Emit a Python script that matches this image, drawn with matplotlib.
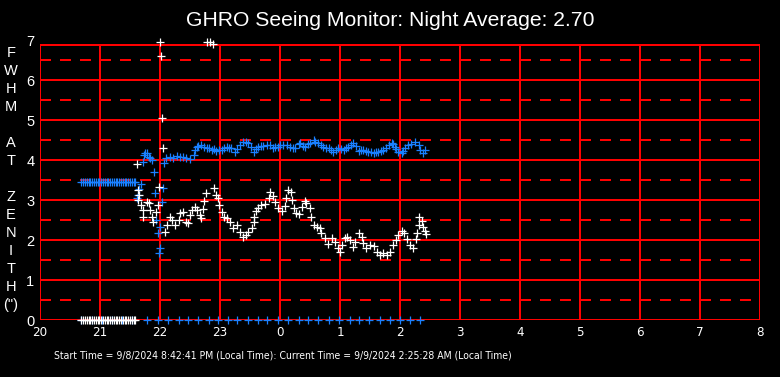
import matplotlib
matplotlib.use("Agg")
import matplotlib.pyplot as plt

plt.rcParams['lines.scale_dashes'] = False

title = "GHRO Seeing Monitor: Night Average: 2.70"
footer = ("Start Time = 9/8/2024 8:42:41 PM (Local Time): "
          "Current Time = 9/9/2024 2:25:28 AM (Local Time)")
ylabel_chars = ["F", "W", "H", "M", "", "A", "T", "", "Z", "E", "N", "I", "T", "H", "(\")"]
hour_ticks = list(range(20, 33))
hour_labels = ["20", "21", "22", "23", "0", "1", "2", "3", "4", "5", "6", "7", "8"]
y_ticks = list(range(8))

# hours after 20:00, past midnight keeps counting (24 = 0h)
white_t = [22.0, 22.02, 22.04, 22.055, 22.78, 22.83, 22.89,
           21.62, 21.64, 21.65, 21.64, 21.69, 21.72, 21.71, 21.78, 21.81, 21.83,
           21.86, 21.89, 21.93, 21.97, 21.99, 22.08, 22.11, 22.16, 22.2, 22.25,
           22.31, 22.33, 22.39, 22.43, 22.47, 22.5, 22.53, 22.58, 22.61, 22.67,
           22.69, 22.71, 22.73, 22.76, 22.9, 22.93, 22.96, 22.99, 23.03, 23.07,
           23.11, 23.17, 23.22, 23.28, 23.33, 23.39, 23.43, 23.47, 23.53, 23.56,
           23.57, 23.6, 23.64, 23.69, 23.75, 23.81, 23.83, 23.88, 23.92, 23.97,
           24.04, 24.08, 24.1, 24.14, 24.19, 24.2, 24.23, 24.27, 24.32, 24.36,
           24.42, 24.44, 24.5, 24.52, 24.56, 24.61, 24.67, 24.69, 24.75, 24.8,
           24.86, 24.92, 24.96, 25.0, 25.04, 25.08, 25.12, 25.17, 25.21, 25.25,
           25.31, 25.36, 25.39, 25.44, 25.5, 25.56, 25.61, 25.67, 25.72, 25.78,
           25.83, 25.89, 25.93, 25.97, 26.03, 26.07, 26.11, 26.17, 26.22, 26.26,
           26.28, 26.31, 26.32, 26.37, 26.39, 26.41, 26.43]
white_v = [6.94, 6.6, 5.04, 4.29, 6.94, 6.94, 6.9,
           3.89, 3.25, 3.12, 3.0, 2.88, 2.75, 2.57, 2.96, 2.92, 2.75,
           2.58, 2.46, 2.71, 2.88, 3.33, 2.19, 2.38, 2.57, 2.5, 2.38,
           2.5, 2.67, 2.71, 2.46, 2.42, 2.62, 2.75, 2.82, 2.75, 2.62,
           2.54, 2.77, 2.98, 3.17, 3.29, 3.12, 3.04, 2.88, 2.71, 2.58,
           2.54, 2.46, 2.29, 2.38, 2.21, 2.08, 2.12, 2.21, 2.29, 2.46,
           2.57, 2.72, 2.79, 2.88, 2.9, 3.04, 3.2, 3.1, 2.95, 2.8,
           2.73, 2.85, 3.04, 3.25, 3.21, 3.0, 2.79, 2.67, 2.64, 2.82,
           2.98, 2.92, 2.79, 2.57, 2.38, 2.33, 2.29, 2.17, 2.04, 1.9,
           2.04, 1.96, 1.79, 1.71, 1.88, 2.04, 2.08, 2.0, 1.83, 1.96,
           2.17, 2.08, 1.92, 1.79, 1.88, 1.85, 1.71, 1.62, 1.67, 1.62,
           1.71, 1.88, 2.0, 2.12, 2.23, 2.17, 2.02, 1.88, 1.79, 2.03,
           2.18, 2.38, 2.57, 2.48, 2.33, 2.22, 2.14]

flat_t = [20.69, 20.72, 20.75, 20.78, 20.81, 20.84, 20.87, 20.9, 20.93, 20.96,
          20.99, 21.02, 21.05, 21.08, 21.11, 21.14, 21.17, 21.2, 21.23, 21.26,
          21.29, 21.32, 21.35, 21.38, 21.41, 21.44, 21.47, 21.5, 21.53, 21.56, 21.58]
flat_v = [3.44] * len(flat_t)

blue_t = [21.61, 21.64, 21.65, 21.69, 21.71, 21.73, 21.75, 21.78, 21.81, 21.83,
          21.86, 21.9, 21.92, 21.94, 21.97, 21.99, 22.0, 22.005, 22.03, 22.055,
          22.07, 22.1, 22.17, 22.22, 22.28, 22.33, 22.39, 22.44, 22.5, 22.56,
          22.58, 22.61, 22.64, 22.69, 22.73, 22.78, 22.82, 22.86, 22.9, 22.94,
          22.98, 23.03, 23.07, 23.11, 23.15, 23.19, 23.25, 23.29, 23.33, 23.39,
          23.43, 23.47, 23.51, 23.56, 23.6, 23.64, 23.69, 23.72, 23.78, 23.83,
          23.89, 23.92, 23.96, 24.0, 24.05, 24.11, 24.17, 24.22, 24.25, 24.31,
          24.33, 24.39, 24.42, 24.47, 24.5, 24.56, 24.58, 24.64, 24.68, 24.72,
          24.76, 24.81, 24.85, 24.89, 24.93, 24.97, 25.01, 25.06, 25.1, 25.14,
          25.18, 25.22, 25.26, 25.31, 25.35, 25.39, 25.43, 25.47, 25.51, 25.56,
          25.6, 25.64, 25.68, 25.72, 25.76, 25.81, 25.86, 25.89, 25.92, 25.94,
          25.97, 26.03, 26.05, 26.08, 26.14, 26.19, 26.25, 26.31, 26.33, 26.38, 26.42]
blue_v = [3.04, 3.12, 3.27, 3.4, 3.96, 4.12, 4.17, 4.17, 4.08, 4.06,
          4.0, 3.71, 3.17, 2.5, 2.18, 1.68, 1.79, 2.33, 2.96, 3.29,
          3.93, 4.04, 4.08, 4.06, 4.1, 4.08, 4.07, 4.06, 4.02, 4.12,
          4.25, 4.33, 4.35, 4.38, 4.33, 4.29, 4.3, 4.25, 4.28, 4.23,
          4.25, 4.25, 4.3, 4.33, 4.31, 4.29, 4.21, 4.28, 4.38, 4.46,
          4.44, 4.42, 4.33, 4.21, 4.27, 4.33, 4.35, 4.35, 4.38, 4.38,
          4.29, 4.33, 4.33, 4.38, 4.38, 4.38, 4.33, 4.29, 4.29, 4.4,
          4.42, 4.35, 4.33, 4.4, 4.42, 4.5, 4.46, 4.42, 4.38, 4.33,
          4.31, 4.29, 4.25, 4.21, 4.25, 4.29, 4.27, 4.25, 4.3, 4.33,
          4.38, 4.42, 4.35, 4.23, 4.24, 4.25, 4.23, 4.21, 4.19, 4.17,
          4.19, 4.21, 4.23, 4.25, 4.31, 4.38, 4.43, 4.4, 4.33, 4.27,
          4.21, 4.17, 4.23, 4.29, 4.38, 4.4, 4.46, 4.38, 4.25, 4.17, 4.25]

zero_white_t = flat_t
zero_blue_t = [20.69, 20.86, 21.03, 21.2, 21.37, 21.54, 21.78, 21.96, 22.13, 22.31,
               22.47, 22.64, 22.81, 22.96, 23.13, 23.29, 23.46, 23.63, 23.79, 23.97,
               24.14, 24.31, 24.47, 24.64, 24.81, 24.99, 25.16, 25.32, 25.49, 25.66,
               25.83, 26.0, 26.17, 26.33]

W, H = 780, 377
BLUE = "#1a80ff"
RED = "#ff0000"
TOP = 6.875

fig = plt.figure(figsize=(W / 100, H / 100), dpi=100, facecolor="black")
ax = fig.add_axes([40 / W, 57 / H, 720 / W, 280 / H], facecolor="black")
ax.set_xlim(20, 32)
ax.set_ylim(0, 7)
for s in ax.spines.values():
    s.set_visible(False)

# grid
grid = dict(color=RED, lw=1.1, antialiased=False, zorder=1)
for h in hour_ticks:
    ax.plot([h, h], [0, TOP], **grid)
for y in range(0, 7):
    ax.plot([20, 32], [y, y], **grid)
ax.plot([20, 32], [TOP, TOP], **grid)
for k in range(7):
    ax.plot([20, 32], [k + 0.5, k + 0.5], linestyle=(0, (7.9, 6.5)), **grid)

mk = dict(marker="+", linestyle="none", markersize=5.5, markeredgewidth=0.9,
          clip_on=False, zorder=3)
ax.plot(zero_blue_t, [0] * len(zero_blue_t), color=BLUE, **mk)
ax.plot(zero_white_t, [0] * len(zero_white_t), color="white", **mk)
ax.plot(flat_t, flat_v, color=BLUE, **mk)
ax.plot(blue_t, blue_v, color=BLUE, **mk)
ax.plot(white_t, white_v, color="white", **mk)

ax.set_xticks(hour_ticks)
ax.set_xticklabels(hour_labels, family="DejaVu Sans", fontstretch="condensed",
                   fontsize=9.5, color="white")
ax.set_yticks(y_ticks)
ax.set_yticklabels([str(v) for v in y_ticks], family="Liberation Sans",
                   fontsize=10.5, color="white")
ax.tick_params(length=0, pad=4)

fig.text(390 / W, 1 - 20 / H, title, ha="center", va="center", color="white",
         family="Liberation Sans", fontsize=15.2)
for i, ch in enumerate(ylabel_chars):
    fig.text(11 / W, 1 - (53 + 18.0 * i) / H, ch, ha="center", va="center",
             color="white", family="Liberation Sans", fontsize=10.5)
fig.text(54 / W, 1 - 355 / H, footer, ha="left", va="center", color="white",
         family="DejaVu Sans", fontstretch="condensed", fontsize=7.5)

fig.savefig("out.png", dpi=100, facecolor="black")
